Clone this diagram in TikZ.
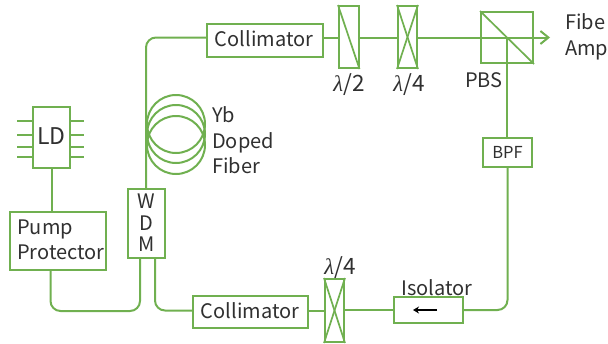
\documentclass[tikz,border=0pt]{standalone}
\usepackage{fontspec}
\setmainfont{Noto Sans CJK JP}
\newfontfamily\lamfont{Liberation Serif}[ItalicFont=* Italic]
\usetikzlibrary{arrows.meta,calc}
\definecolor{fibergreen}{HTML}{70B050}
\definecolor{labelgray}{HTML}{303030}
\tikzset{
  fiber/.style={draw=fibergreen,line width=2pt},
  thinfiber/.style={fiber,line width=1.7pt},
  bendfiber/.style={fiber,rounded corners=10pt},
  box/.style={fiber,rectangle,inner sep=0pt,fill=white},
  lab/.style={text=labelgray,inner sep=0pt,font=\fontsize{20}{24}\selectfont,anchor=base west},
  largelab/.style={lab,font=\fontsize{23}{26}\selectfont,anchor=base},
  waveplab/.style={lab,font=\fontsize{22.5}{26}\selectfont,anchor=base},
  smalllab/.style={lab,font=\fontsize{16.5}{20}\selectfont,anchor=base},
}
\newcommand{\boxat}[5]{\node[box,minimum width=#4-#2,minimum height=#5-#3] (#1) at ({(#2+#4)/2},{(#3+#5)/2}) {};}
\newcommand{\lamtxt}[1]{{\lamfont\itshape λ}/#1}
\begin{document}
\begin{tikzpicture}[x=1pt,y=-1pt]
\useasboundingbox (0,0) rectangle (608,343);
\coordinate (out) at (550,37.5);
% fibre coil
\node[fiber,circle,minimum size=58pt,inner sep=0pt] (coilA) at (176,124) {};
\node[fiber,circle,minimum size=58pt,inner sep=0pt] (coilB) at (176,134) {};
\node[fiber,circle,minimum size=58pt,inner sep=0pt] (coilC) at (176,145) {};
% boxes
\boxat{ld}{33}{107}{70}{168}
\boxat{pp}{10}{212}{106}{270}
\boxat{wdm}{128}{189}{165}{258}
\boxat{colT}{207}{24}{323}{57}
\boxat{colB}{193}{296}{308}{328}
\boxat{halfT}{339}{6}{358.5}{68}
\boxat{quarT}{398}{6}{417}{68}
\boxat{pbs}{481}{12}{533}{63}
\boxat{bpf}{483}{138}{532}{167}
\boxat{iso}{394}{297}{463}{323}
\boxat{quarB}{325}{279}{344}{342}
% pins
\foreach \y in {121,135,147,157}{
  \draw[thinfiber] (ld.west |- 0,\y) -- ++(-15,0);
  \draw[thinfiber] (ld.east |- 0,\y) -- ++(13,0);
}
% wave plate marks
\draw[thinfiber] (halfT.north west) -- (halfT.south east);
\draw[thinfiber] (quarT.north west) -- (quarT.south east);
\draw[thinfiber] (quarT.north east) -- (quarT.south west);
\draw[thinfiber] (quarB.north west) -- (quarB.south east);
\draw[thinfiber] (quarB.north east) -- (quarB.south west);
\draw[thinfiber] (pbs.north west) -- (pbs.south east);
% connectors
\draw[fiber] (ld.south) -- (ld.south |- pp.north);
\coordinate (ppOut) at (50.5,270);
\coordinate (wdmA) at (140,258);
\coordinate (wdmB) at (155,258);
\coordinate (wdmT) at (146,189);
\draw[bendfiber] (ppOut) -- (50.5,311) -- (140,311) -- (wdmA);
\draw[bendfiber] (wdmB) -- (155,310.5) -- (colB.west |- 0,310.5);
\draw[bendfiber] (wdmT) -- (146,37.5) -- (colT.west |- 0,37.5);
\draw[fiber] (colT.east |- 0,37.5) -- (halfT.west |- 0,37.5);
\draw[fiber] (halfT.east |- 0,37.5) -- (quarT.west |- 0,37.5);
\draw[fiber,-{Straight Barb[length=8pt,width=13pt]}] (quarT.east |- 0,37.5) -- (out);
\draw[fiber] (pbs.center) -- (pbs.center |- bpf.north);
\draw[bendfiber] (bpf.south) -- (bpf.south |- iso.east) -- (iso.east);
\draw[fiber] (iso.west) -- (iso.west -| quarB.east);
\draw[fiber] (quarB.west |- 0,310.5) -- (colB.east |- 0,310.5);
% isolator arrow
\coordinate (isoA) at (437,310);
\coordinate (isoB) at (413,310);
\draw[line width=1.6pt,black,-{Stealth[length=6pt,width=7pt]}] (isoA) -- (isoB);
% labels
\node[largelab] (tLD) at (51.5,144) {LD};
\node[lab] (tPP1) at (17,234) {Pump};
\node[lab] (tPP2) at (17,259.5) {Protector};
\node[lab,anchor=base] (tW) at (146.5,208) {W};
\node[lab,anchor=base] (tD) at (146.5,230) {D};
\node[lab,anchor=base] (tM) at (146.5,251) {M};
\node[lab] (tY1) at (212,122) {Yb};
\node[lab] (tY2) at (212,148) {Doped};
\node[lab] (tY3) at (212,173) {Fiber};
\node[lab,anchor=base] (tCT) at (264,46) {Collimator};
\node[lab,anchor=base] (tCB) at (250,318) {Collimator};
\node[waveplab] (tH) at (349,91.5) {\lamtxt{2}};
\node[waveplab] (tQ) at (409,91.5) {\lamtxt{4}};
\node[waveplab] (tQB) at (340,274.5) {\lamtxt{4}};
\node[lab,anchor=base] (tPBS) at (484,87.5) {PBS};
\node[lab] (tF) at (565,29) {Fibe};
\node[lab] (tA) at (565,55) {Amp};
\node[smalllab] (tBPF) at (507.5,158) {BPF};
\node[lab,anchor=base] (tI) at (437,295) {Isolator};
\end{tikzpicture}
\end{document}
